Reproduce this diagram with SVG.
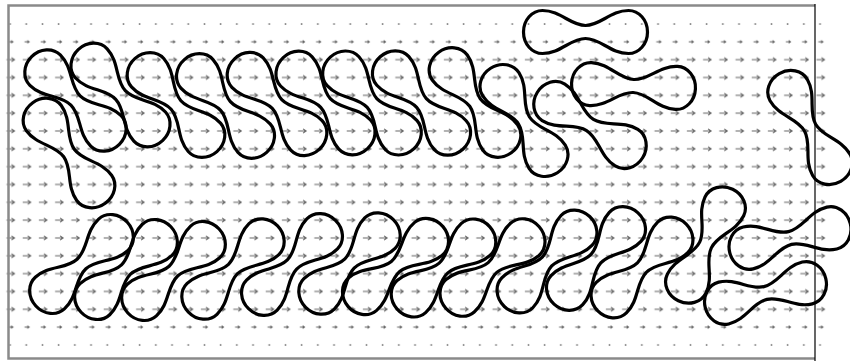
<svg xmlns="http://www.w3.org/2000/svg" xmlns:xlink="http://www.w3.org/1999/xlink" width="850" height="361" viewBox="0 0 850 361">
<defs>
<style>
.ves{fill:none;stroke:#000;stroke-width:3.2;stroke-linejoin:round}
.arr{fill:none;stroke:#666;stroke-width:1.1}
</style>
<pattern id="pFull" patternUnits="userSpaceOnUse" x="1.9" y="15.085" width="16.2" height="17.83">
<path class="arr" d="M4.6 8.9H12.6M9.6 6.8L12.6 8.9L9.6 11"/>
</pattern>
<pattern id="pShort" patternUnits="userSpaceOnUse" x="1.9" y="15.085" width="16.2" height="17.83">
<path class="arr" d="M6.4 8.9H11M9.2 7.5L11 8.9L9.2 10.3"/>
</pattern>
<pattern id="pDot" patternUnits="userSpaceOnUse" x="1.9" y="15.085" width="16.2" height="17.83">
<rect x="7.4" y="8.1" width="1.5" height="1.7" fill="#777"/>
</pattern>
<path id="v" class="ves" d="M-43,-21.5 C-25,-21.5 -15,-6.5 0,-6.5 C15,-6.5 25,-21.5 43,-21.5 C53.5,-21.5 62,-11.9 62,0 C62,11.9 53.5,21.5 43,21.5 C25,21.5 15,6.5 0,6.5 C-15,6.5 -25,21.5 -43,21.5 C-53.5,21.5 -62,11.9 -62,0 C-62,-11.9 -53.5,-21.5 -43,-21.5 Z"/>
</defs>
<rect width="850" height="361" fill="#fff"/>
<g id="flowfield">
<rect x="1.9" y="15.085" width="826.2" height="17.83" fill="url(#pDot)"/>
<rect x="1.9" y="32.915" width="826.2" height="17.83" fill="url(#pShort)"/>
<rect x="1.9" y="50.745" width="826.2" height="267.45" fill="url(#pFull)"/>
<rect x="1.9" y="318.195" width="826.2" height="17.83" fill="url(#pShort)"/>
<rect x="1.9" y="336.025" width="826.2" height="17.83" fill="url(#pDot)"/>
</g>
<g id="frame">
<path d="M815,5.5 H8.5 V358.5 H815" fill="none" stroke="#8a8a8a" stroke-width="2.5"/>
<line x1="815" y1="4" x2="815" y2="361" stroke="#000" stroke-width="1.2"/>
</g>
<g id="vesicles-top">
<use id="t1" href="#v" transform="translate(75.5,100.5) rotate(45)"/>
<use id="t2" href="#v" transform="translate(120.5,95) rotate(47.3)"/>
<use id="t3" href="#v" transform="translate(176,105) rotate(48.7)"/>
<use id="t4" href="#v" transform="translate(225.5,106) rotate(48.4)"/>
<use id="t5" href="#v" transform="translate(277,104) rotate(46.8)"/>
<use id="t6" href="#v" transform="translate(325.5,103) rotate(47.3)"/>
<use id="t7" href="#v" transform="translate(372,103) rotate(47.7)"/>
<use id="t8" href="#v" transform="translate(421.5,103) rotate(48.2)"/>
<use id="t9" href="#v" transform="translate(475,102.5) rotate(54.2)"/>
<use id="t10" href="#v" transform="translate(524,120.5) rotate(57.4)"/>
<use id="t11" href="#v" transform="translate(69,153) rotate(54.2)"/>
<use id="t12" href="#v" transform="translate(585.5,32) rotate(0)"/>
<use id="t13" href="#v" transform="translate(633.5,86) rotate(2.6)"/>
<use id="t14" href="#v" transform="translate(590,125) rotate(31.9)"/>
<use id="t15" href="#v" transform="translate(810,127.5) rotate(60.3)"/>
</g>
<g id="vesicles-bottom">
<use id="b1" href="#v" transform="translate(81.5,264) rotate(-42.6)"/>
<use id="b2" href="#v" transform="translate(126,269.5) rotate(-43.6)"/>
<use id="b3" href="#v" transform="translate(173.5,271) rotate(-42.6)"/>
<use id="b4" href="#v" transform="translate(233,269) rotate(-44)"/>
<use id="b5" href="#v" transform="translate(292,264.5) rotate(-45.5)"/>
<use id="b6" href="#v" transform="translate(349.5,263.5) rotate(-45)"/>
<use id="b7" href="#v" transform="translate(395.5,266.5) rotate(-40)"/>
<use id="b8" href="#v" transform="translate(443.5,268) rotate(-41.6)"/>
<use id="b9" href="#v" transform="translate(492.5,267.5) rotate(-41.1)"/>
<use id="b10" href="#v" transform="translate(547,261.5) rotate(-46.5)"/>
<use id="b11" href="#v" transform="translate(596,258.5) rotate(-47.4)"/>
<use id="b12" href="#v" transform="translate(642,267.5) rotate(-44.5)"/>
<use id="b13" href="#v" transform="translate(705.5,245) rotate(-64)"/>
<use id="b14" href="#v" transform="translate(790,238) rotate(-13.4)"/>
<use id="b15" href="#v" transform="translate(765.5,293) rotate(-13.5)"/>
</g>
</svg>
